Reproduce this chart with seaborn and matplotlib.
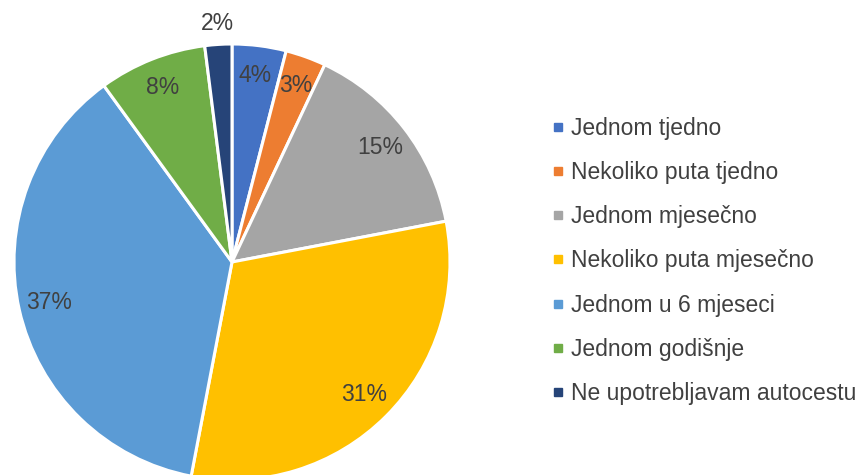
import numpy as np
import seaborn as sns
import matplotlib.pyplot as plt
from matplotlib.lines import Line2D

categories = ["Jednom tjedno", "Nekoliko puta tjedno", "Jednom mjesečno",
              "Nekoliko puta mjesečno", "Jednom u 6 mjeseci", "Jednom godišnje",
              "Ne upotrebljavam autocestu"]
shares = [4, 3, 15, 31, 37, 8, 2]
colors = ["#4472C4", "#ED7D31", "#A5A5A5", "#FFC000", "#5B9BD5", "#70AD47", "#264478"]

sns.set_theme(style="white")
plt.rcParams['font.family'] = ['Liberation Sans', 'DejaVu Sans']
text_color = "#404040"

fig = plt.figure(figsize=(8.67, 4.75), dpi=100)
ax = fig.add_axes([14 / 867, -5 / 475, 436 / 867, 436 / 475])

palette = sns.color_palette(colors)
wedges, texts, autotexts = ax.pie(
    shares, colors=palette, startangle=90, counterclock=False,
    autopct=lambda p: f"{p:.0f}%", pctdistance=0.86,
    wedgeprops=dict(edgecolor="white", linewidth=2.2),
    textprops=dict(color=text_color, fontsize=16.5))
ax.set_xlim(-1, 1)
ax.set_ylim(-1, 1)
ax.set_aspect("auto")

# the smallest slice gets its label outside the pie
w = wedges[-1]
mid = np.deg2rad((w.theta1 + w.theta2) / 2)
autotexts[-1].set_position((1.095 * np.cos(mid), 1.095 * np.sin(mid)))

handles = [Line2D([], [], marker="s", linestyle="none", markersize=5.5,
                  markerfacecolor=c, markeredgecolor=c) for c in palette]
leg = fig.legend(handles, categories, loc="center left",
                 bbox_to_anchor=(541 / 867, 1 - 261 / 475), frameon=False,
                 fontsize=16.5, labelspacing=0.92, handlelength=0.45,
                 handletextpad=0.35, borderpad=0)
for t in leg.get_texts():
    t.set_color(text_color)

fig.savefig("out.png", dpi=100)
